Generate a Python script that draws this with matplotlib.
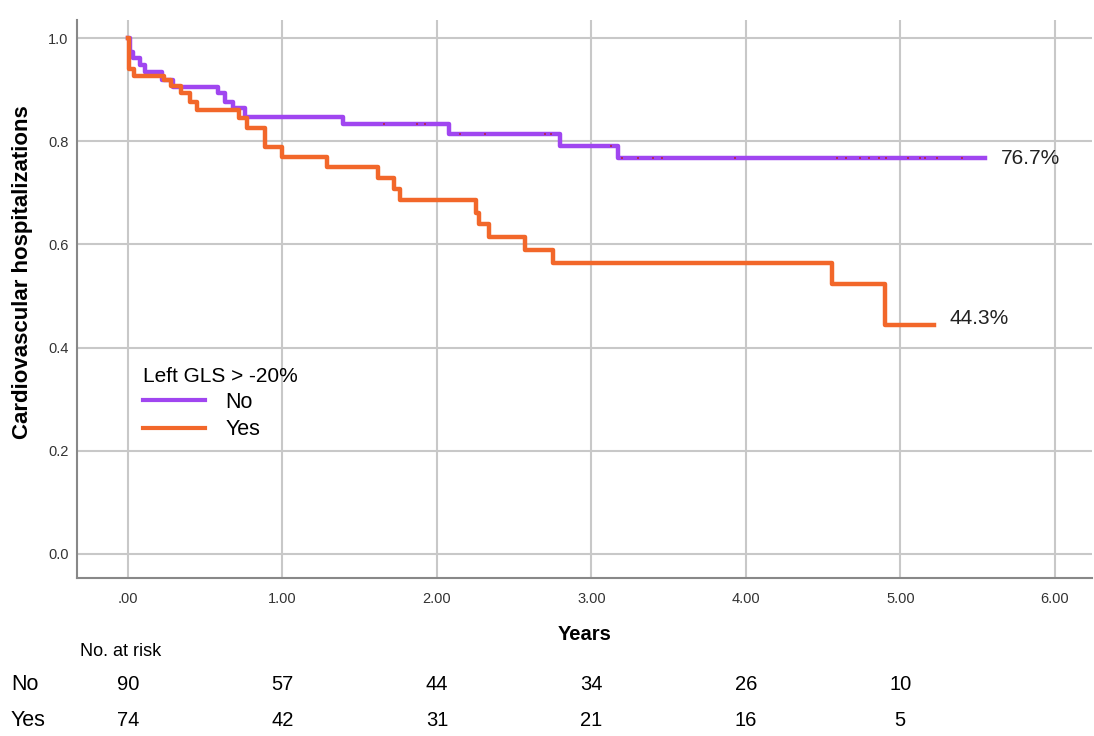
import numpy as np
import matplotlib
matplotlib.use("Agg")
import matplotlib.pyplot as plt

plt.rcParams["font.family"] = ["Liberation Sans", "DejaVu Sans"]

# Kaplan-Meier estimates read per group (years, survival free of CV hospitalization)
no_times = [0, 0.01, 0.03, 0.08, 0.11, 0.22, 0.29, 0.58, 0.63, 0.68, 0.76, 1.39, 2.08, 2.80, 3.17, 5.55]
no_surv = [1.0, 0.973, 0.961, 0.947, 0.934, 0.919, 0.905, 0.893, 0.876, 0.864, 0.847, 0.833, 0.814, 0.791, 0.767, 0.767]

yes_times = [0, 0.005, 0.04, 0.23, 0.28, 0.34, 0.40, 0.45, 0.72, 0.77, 0.89, 1.0, 1.29, 1.62, 1.72,
             1.76, 2.25, 2.27, 2.34, 2.57, 2.75, 4.56, 4.90, 5.22]
yes_surv = [1.0, 0.94, 0.926, 0.919, 0.907, 0.893, 0.876, 0.86, 0.845, 0.826, 0.789, 0.769, 0.75, 0.729,
            0.707, 0.686, 0.661, 0.64, 0.614, 0.589, 0.564, 0.523, 0.443, 0.443]

# censored observations in the "No" group
no_censor = [1.66, 1.87, 1.92, 2.15, 2.31, 2.70, 2.74, 3.13, 3.20, 3.30, 3.40, 3.46, 3.93, 4.59,
             4.65, 4.74, 4.80, 4.86, 4.91, 5.05, 5.13, 5.16, 5.24, 5.40]

tick_years = [0, 1, 2, 3, 4, 5, 6]
tick_labels = [".00", "1.00", "2.00", "3.00", "4.00", "5.00", "6.00"]
risk_no = [90, 57, 44, 34, 26, 10]
risk_yes = [74, 42, 31, 21, 16, 5]

purple = "#a046f0"
orange = "#f2672a"

fig = plt.figure(figsize=(10.94, 7.36), dpi=100)
ax = fig.add_axes([0.0704, 0.2147, 0.9276, 0.758])

ax.step(no_times, no_surv, where="post", color=purple, lw=3.2, label="No", zorder=3)
ax.step(yes_times, yes_surv, where="post", color=orange, lw=3.2, label="Yes", zorder=3)

# censor marks sit on the step at the survival value in force
cens_y = [no_surv[np.searchsorted(no_times, t, side="right") - 1] for t in no_censor]
ax.plot(no_censor, cens_y, ls="none", marker="s", ms=1.5, mew=0, color="#b02a60", zorder=4)

ax.text(no_times[-1] + 0.1, no_surv[-1], f"{no_surv[-1] * 100:.1f}%", fontsize=15,
        va="center", ha="left", color="#222222")
ax.text(yes_times[-1] + 0.1, yes_surv[-1] + 0.013, f"{yes_surv[-1] * 100:.1f}%", fontsize=15,
        va="center", ha="left", color="#222222")

ax.set_xlim(-0.33, 6.24)
ax.set_ylim(-0.0465, 1.035)
ax.set_xticks(tick_years)
ax.set_xticklabels(tick_labels, fontsize=10.5, color="#333333")
ax.set_yticks([0, 0.2, 0.4, 0.6, 0.8, 1.0])
ax.set_yticklabels(["0.0", "0.2", "0.4", "0.6", "0.8", "1.0"], fontsize=10.5, color="#333333")
ax.tick_params(axis="x", length=0, pad=10)
ax.tick_params(axis="y", length=0, pad=6)
ax.grid(True, color="#c8c8c8", lw=1.5, zorder=0)
ax.set_axisbelow(True)
for side in ["top", "right"]:
    ax.spines[side].set_visible(False)
for side in ["left", "bottom"]:
    ax.spines[side].set_color("#888888")
    ax.spines[side].set_linewidth(1.5)

ax.set_ylabel("Cardiovascular hospitalizations", fontsize=16, fontweight="bold")
ax.yaxis.set_label_coords(-0.043, 0.548)
ax.set_xlabel("Years", fontsize=14.5, fontweight="bold", labelpad=14)

leg = ax.legend(title="Left GLS > -20%", loc="upper left", bbox_to_anchor=(0.05, 0.406),
                frameon=False, fontsize=15.5, title_fontsize=15, handlelength=2.9,
                handletextpad=0.95, labelspacing=0.3, borderpad=0.2)
leg._legend_box.align = "left"
for line in leg.get_lines():
    line.set_linewidth(3)

# number-at-risk table under the x axis
fig.text(80 / 1094, 1 - 652 / 736, "No. at risk", fontsize=13, va="center", ha="left")
fig.text(11 / 1094, 1 - 684 / 736, "No", fontsize=15.5, va="center", ha="left")
fig.text(11 / 1094, 1 - 721 / 736, "Yes", fontsize=15.5, va="center", ha="left")
for yr, n_no, n_yes in zip(tick_years, risk_no, risk_yes):
    xf = fig.transFigure.inverted().transform(ax.transData.transform((yr, 0)))[0]
    fig.text(xf, 1 - 684 / 736, str(n_no), fontsize=14.5, va="center", ha="center")
    fig.text(xf, 1 - 721 / 736, str(n_yes), fontsize=14.5, va="center", ha="center")

fig.savefig("out.png", dpi=100)
